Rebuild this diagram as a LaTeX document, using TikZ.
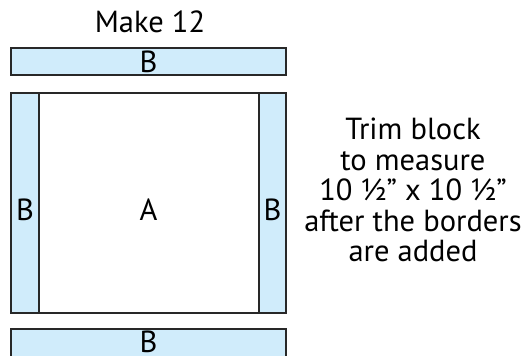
\documentclass[tikz,border=0pt]{standalone}
\usepackage{fontspec}
\setmainfont{PT Sans}
\definecolor{stripblue}{RGB}{208,236,251}
\definecolor{edgegray}{RGB}{40,40,40}
\usetikzlibrary{positioning}
\tikzset{
x=1pt, y=-1pt, % pixel-like units, y runs downwards
every node/.style={font=\fontsize{30.5}{30.5}\selectfont, inner sep=0pt, outer sep=0pt},
piece/.style={draw=edgegray, line width=1.4pt, rectangle, anchor=north west},
strip/.append style={piece, fill=stripblue},
block/.append style={piece, fill=white},
}
\begin{document}
\begin{tikzpicture}
      \useasboundingbox (0,0) rectangle (531,356);
      \node (make) at (150,22) {Make 12};
      \node[strip, minimum width=275pt, minimum height=27pt] (top) at (11,48) {B};
      \node[block, minimum width=275pt, minimum height=220pt] (main) at (11,93) {};
      \node[strip, minimum width=28pt, minimum height=220pt] (left) at (11,93) {};
      \node[strip, minimum width=27pt, minimum height=220pt] (right) at (259,93) {};
      \node[strip, minimum width=275pt, minimum height=28pt] (bottom) at (11,329) {};
      \node[yshift=1pt] (bb) at (bottom.center) {B};
      \node[yshift=-7pt] (A) at (main.center) {A};
      \node[yshift=-7pt] (lb) at (left.center) {B};
      \node[yshift=-7pt] (rb) at (right.center) {B};
      \node[align=center] (trim) at (413,190) {Trim block\\to measure\\10 ½” x 10 ½”\\after the borders\\are added};
    \end{tikzpicture}
\end{document}
